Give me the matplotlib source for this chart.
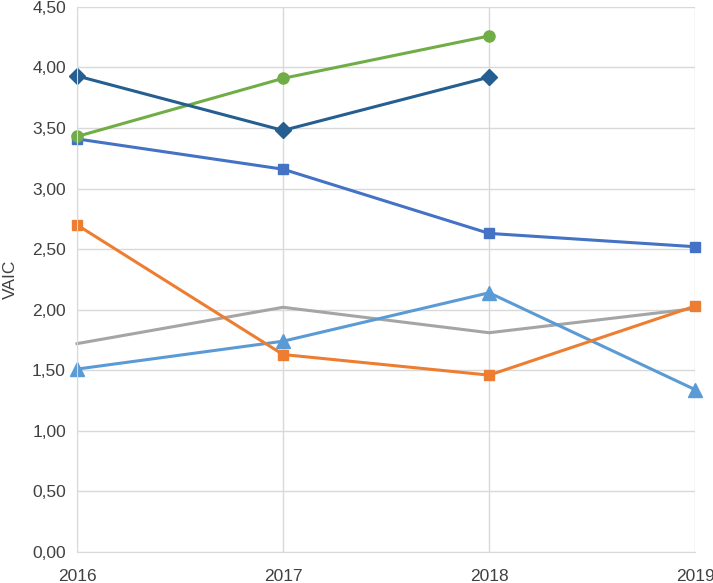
import matplotlib
matplotlib.use("Agg")
import matplotlib.pyplot as plt
from matplotlib.ticker import FuncFormatter

plt.rcParams['font.family'] = ['Liberation Sans', 'DejaVu Sans']

years = [2016, 2017, 2018, 2019]

s_darkblue = [3.93, 3.48, 3.92]
s_green = [3.43, 3.91, 4.26]
s_blue = [3.41, 3.16, 2.63, 2.52]
s_orange = [2.70, 1.63, 1.46, 2.03]
s_gray = [1.72, 2.02, 1.81, 2.01]
s_lightblue = [1.51, 1.74, 2.14, 1.34]

fig = plt.figure(figsize=(7.13, 5.83), dpi=100)
ax = fig.add_axes([0.108, 0.0532, 0.867, 0.935])

ax.plot(years, s_gray, color='#A5A5A5', lw=2.2, clip_on=False)
ax.plot(years, s_lightblue, color='#5B9BD5', lw=2.2, marker='^', ms=10, clip_on=False)
ax.plot(years, s_orange, color='#ED7D31', lw=2.2, marker='s', ms=7, clip_on=False)
ax.plot(years, s_blue, color='#4472C4', lw=2.2, marker='s', ms=7, clip_on=False)
ax.plot(years[:3], s_green, color='#70AD47', lw=2.2, marker='o', ms=8, clip_on=False)
ax.plot(years[:3], s_darkblue, color='#255E91', lw=2.2, marker='D', ms=8, clip_on=False)

ax.set_xlim(2016, 2019)
ax.set_ylim(0, 4.5)
ax.set_xticks(years)
ax.set_yticks([i * 0.5 for i in range(10)])
ax.yaxis.set_major_formatter(FuncFormatter(lambda v, p: f"{v:.2f}".replace('.', ',')))

ax.grid(True, color='#D9D9D9', lw=1)
ax.set_axisbelow(True)
for side in ['top', 'right']:
    ax.spines[side].set_visible(False)
for side in ['left', 'bottom']:
    ax.spines[side].set_color('#D9D9D9')
ax.tick_params(length=0, labelsize=12.5, colors='#404040', pad=8)
ax.tick_params(axis='x', pad=12)
ax.set_ylabel('VAIC', fontsize=12.5, color='#404040', labelpad=10)

fig.savefig('out.png', dpi=100)
